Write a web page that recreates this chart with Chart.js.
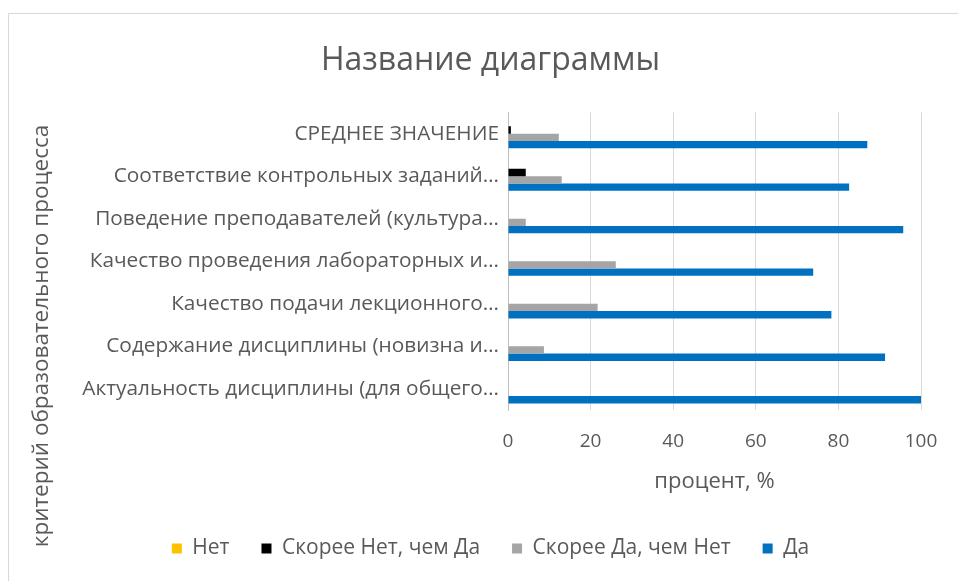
<!DOCTYPE html>
<html>
<head>
<meta charset="utf-8">
<script src="https://cdn.jsdelivr.net/npm/chart.js@4"></script>
<style>
    body { margin: 0; background: #fff; }
    #frame {
        position: absolute; left: 8px; top: 13px; right: 0; bottom: 0;
        border-top: 1px solid #d9d9d9; border-left: 1px solid #d9d9d9;
    }
    #wrap { position: absolute; left: 0; top: 0; width: 958px; height: 581px; }
</style>
</head>
<body>
<div id="frame"></div>
<div id="wrap"><canvas id="chart" width="958" height="581"></canvas></div>
<script>
// Data
const categories = [
    "СРЕДНЕЕ ЗНАЧЕНИЕ",
    "Соответствие контрольных заданий…",
    "Поведение преподавателей (культура…",
    "Качество проведения лабораторных и…",
    "Качество подачи лекционного…",
    "Содержание дисциплины (новизна и…",
    "Актуальность дисциплины (для общего…"
];
const net = [0, 0, 0, 0, 0, 0, 0];
const skoreeNet = [0.7, 4.3, 0, 0, 0, 0, 0];
const skoreeDa = [12.3, 13.0, 4.3, 26.1, 21.7, 8.7, 0];
const da = [87.0, 82.6, 95.7, 73.9, 78.3, 91.3, 100];
const xTicks = [0, 20, 40, 60, 80, 100];

const FONT = "'Open Sans', sans-serif";
const TEXT = "#595959";

// y axis title drawn by hand so it can sit centred like in Excel
const yTitlePlugin = {
    id: "yTitle",
    afterDraw(chart) {
        const ctx = chart.ctx;
        ctx.save();
        ctx.translate(42, 336);
        ctx.rotate(-Math.PI / 2);
        ctx.font = "22.5px " + FONT;
        ctx.fillStyle = TEXT;
        ctx.textAlign = "center";
        ctx.textBaseline = "middle";
        ctx.fillText("критерий образовательного процесса", 0, 0);
        ctx.restore();
    }
};

new Chart(document.getElementById("chart").getContext("2d"), {
    type: "bar",
    data: {
        labels: categories,
        datasets: [
            { label: "Нет", data: net, backgroundColor: "#FFC000" },
            { label: "Скорее Нет, чем Да", data: skoreeNet, backgroundColor: "#000000" },
            { label: "Скорее Да, чем Нет", data: skoreeDa, backgroundColor: "#A5A5A5" },
            { label: "Да", data: da, backgroundColor: "#0070C0" }
        ]
    },
    options: {
        indexAxis: "y",
        responsive: false,
        animation: false,
        layout: { padding: { left: 60, right: 37, top: 0, bottom: 12 } },
        datasets: {
            bar: { categoryPercentage: 0.69, barPercentage: 1 }
        },
        plugins: {
            title: {
                display: true,
                text: "Название диаграммы",
                color: TEXT,
                font: { family: FONT, size: 32, weight: "normal" },
                padding: { top: 42, bottom: 32 }
            },
            legend: {
                position: "bottom",
                labels: {
                    color: TEXT,
                    font: { family: FONT, size: 21 },
                    boxWidth: 10,
                    boxHeight: 10,
                    padding: 32
                }
            },
            tooltip: { enabled: false }
        },
        scales: {
            x: {
                min: 0,
                max: 100,
                afterBuildTicks(scale) {
                    scale.ticks = xTicks.map(v => ({ value: v }));
                },
                afterFit(scale) {
                    scale.height = 96;
                    scale.paddingLeft = 0;
                    scale.paddingRight = 0;
                },
                grid: { color: "#d9d9d9", drawTicks: false },
                border: { display: false },
                ticks: {
                    color: TEXT,
                    padding: 20,
                    font: { family: FONT, size: 19 }
                },
                title: {
                    display: true,
                    text: "процент, %",
                    color: TEXT,
                    font: { family: FONT, size: 22 },
                    padding: { top: 0, bottom: 11 }
                }
            },
            y: {
                afterFit(scale) {
                    scale.width = 508 - 60;
                    scale.paddingTop = 0;
                    scale.paddingBottom = 0;
                },
                grid: { display: false },
                border: { display: true, color: "#bfbfbf" },
                ticks: {
                    color: TEXT,
                    padding: 1,
                    font: { family: FONT, size: 20.8 }
                }
            }
        }
    },
    plugins: [yTitlePlugin]
});
</script>
</body>
</html>
